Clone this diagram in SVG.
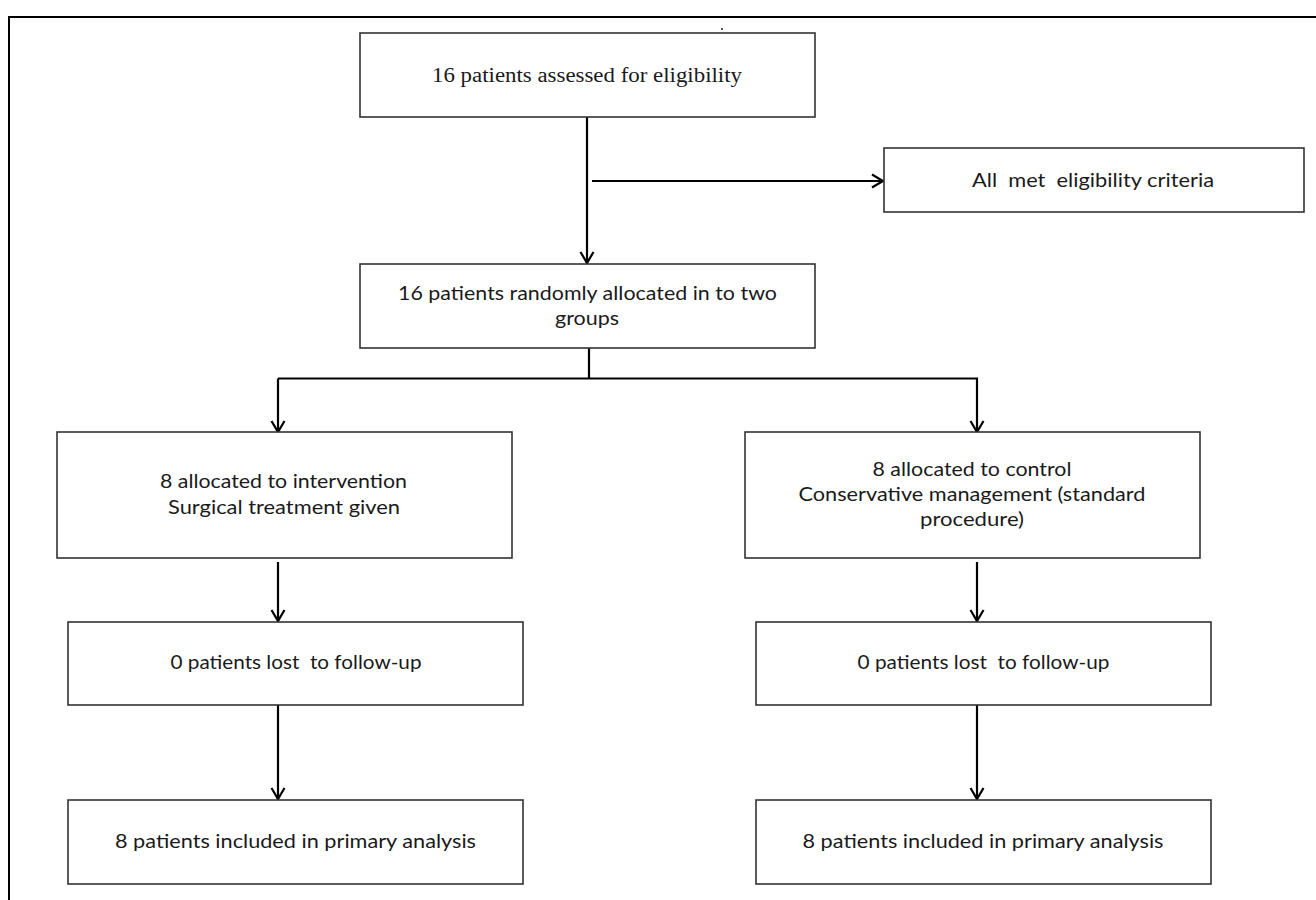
<svg xmlns="http://www.w3.org/2000/svg" width="1316" height="900" viewBox="0 0 1316 900">
<defs>
<marker id="arr" markerUnits="userSpaceOnUse" markerWidth="20" markerHeight="20" viewBox="-14 -10 16 20" refX="0" refY="0" orient="auto">
<path d="M -11 -6.5 L 0 0 L -11 6.5" fill="none" stroke="#000" stroke-width="2.2"/>
</marker>
<style>
.box{fill:#fff;stroke:#333;stroke-width:1.6}
.ln{fill:none;stroke:#000;stroke-width:2.2}
.serif{font-family:"Liberation Serif","Times New Roman",serif;font-size:20.5px;fill:#1a1a1a;text-anchor:middle}
.sans{font-family:Lato,"Carlito","Liberation Sans",sans-serif;font-size:19px;fill:#1a1a1a;text-anchor:middle;white-space:pre}
</style>
</defs>
<rect width="1316" height="900" fill="#fff"/>
<path d="M 9 900 L 9 17 L 1316 17" fill="none" stroke="#000" stroke-width="2"/>
<rect x="721" y="28" width="2" height="2" fill="#555"/>
<g id="connectors">
<line class="ln" x1="587" y1="117" x2="587" y2="263" marker-end="url(#arr)"/>
<line class="ln" x1="592" y1="181" x2="883" y2="181" marker-end="url(#arr)"/>
<path class="ln" d="M 589 348 L 589 378.5"/>
<path class="ln" d="M 278 378.5 L 977 378.5 L 977 432" marker-end="url(#arr)"/>
<line class="ln" x1="278" y1="378.5" x2="278" y2="432" marker-end="url(#arr)"/>
<line class="ln" x1="278" y1="562" x2="278" y2="621" marker-end="url(#arr)"/>
<line class="ln" x1="278" y1="705" x2="278" y2="799" marker-end="url(#arr)"/>
<line class="ln" x1="977" y1="562" x2="977" y2="621" marker-end="url(#arr)"/>
<line class="ln" x1="977" y1="705" x2="977" y2="799" marker-end="url(#arr)"/>
</g>
<g id="n1">
<rect class="box" x="360" y="33" width="455" height="84"/>
<text class="serif" x="587" y="82" textLength="310" lengthAdjust="spacingAndGlyphs">16 patients assessed for eligibility</text>
</g>
<g id="n2">
<rect class="box" x="884" y="148" width="420" height="64"/>
<text class="sans" x="1093" y="187" textLength="242" lengthAdjust="spacingAndGlyphs">All  met  eligibility criteria</text>
</g>
<g id="n3">
<rect class="box" x="360" y="264" width="455" height="84"/>
<text class="sans" x="587.5" y="300" textLength="379" lengthAdjust="spacingAndGlyphs">16 patients randomly allocated in to two</text>
<text class="sans" x="587" y="325" textLength="64" lengthAdjust="spacingAndGlyphs">groups</text>
</g>
<g id="n4">
<rect class="box" x="57" y="432" width="455" height="126"/>
<text class="sans" x="283.5" y="488" textLength="247" lengthAdjust="spacingAndGlyphs">8 allocated to intervention</text>
<text class="sans" x="284" y="514" textLength="232" lengthAdjust="spacingAndGlyphs">Surgical treatment given</text>
</g>
<g id="n5">
<rect class="box" x="745" y="432" width="455" height="126"/>
<text class="sans" x="972" y="476" textLength="199" lengthAdjust="spacingAndGlyphs">8 allocated to control</text>
<text class="sans" x="972" y="501" textLength="347" lengthAdjust="spacingAndGlyphs">Conservative management (standard</text>
<text class="sans" x="972" y="526" textLength="104" lengthAdjust="spacingAndGlyphs">procedure)</text>
</g>
<g id="n6">
<rect class="box" x="68" y="622" width="455" height="83"/>
<text class="sans" x="296" y="669" textLength="251" lengthAdjust="spacingAndGlyphs">0 patients lost  to follow-up</text>
</g>
<g id="n7">
<rect class="box" x="756" y="622" width="455" height="83"/>
<text class="sans" x="983.5" y="669" textLength="252" lengthAdjust="spacingAndGlyphs">0 patients lost  to follow-up</text>
</g>
<g id="n8">
<rect class="box" x="68" y="800" width="455" height="84"/>
<text class="sans" x="295.5" y="848" textLength="361" lengthAdjust="spacingAndGlyphs">8 patients included in primary analysis</text>
</g>
<g id="n9">
<rect class="box" x="756" y="800" width="455" height="84"/>
<text class="sans" x="983" y="848" textLength="361" lengthAdjust="spacingAndGlyphs">8 patients included in primary analysis</text>
</g>
</svg>
